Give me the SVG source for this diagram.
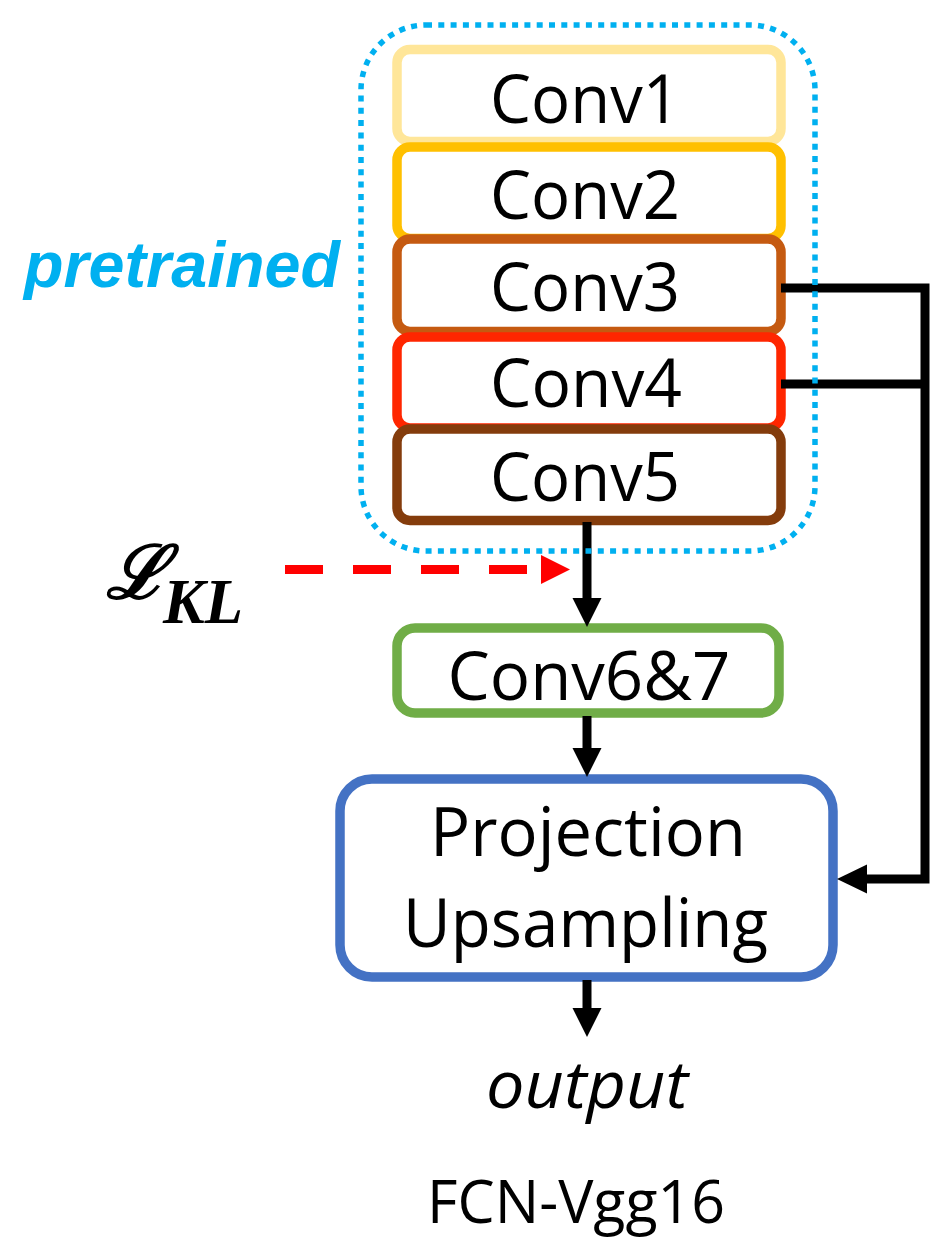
<svg xmlns="http://www.w3.org/2000/svg" width="935" height="1239" viewBox="0 0 935 1239">
  <style>
    .box { fill: #ffffff; stroke-width: 9.5; }
    .lbl { font-family: "Open Sans", "Liberation Sans", sans-serif; font-size: 68px; fill: #000000; text-anchor: middle; }
    .wire { fill: none; stroke: #000000; stroke-width: 9; stroke-linejoin: miter; stroke-linecap: butt; }
    .head { fill: #000000; }
  </style>
  <rect width="935" height="1239" fill="#ffffff"/>

  <!-- pretrained backbone layers -->
  <g id="conv1">
    <rect class="box" x="397" y="49.5" width="384" height="92" rx="13" stroke="#FFE699"/>
    <text class="lbl" x="585" y="123" textLength="190" lengthAdjust="spacingAndGlyphs">Conv1</text>
  </g>
  <g id="conv2">
    <rect class="box" x="397" y="147" width="384" height="91.5" rx="13" stroke="#FFC000"/>
    <text class="lbl" x="585" y="219" textLength="190" lengthAdjust="spacingAndGlyphs">Conv2</text>
  </g>
  <g id="conv3">
    <rect class="box" x="397" y="239" width="384" height="92.5" rx="13" stroke="#C55A11"/>
    <text class="lbl" x="585" y="311" textLength="190" lengthAdjust="spacingAndGlyphs">Conv3</text>
  </g>
  <g id="conv4">
    <rect class="box" x="397" y="337" width="384" height="91" rx="13" stroke="#FF2600"/>
    <text class="lbl" x="586" y="407" textLength="192" lengthAdjust="spacingAndGlyphs">Conv4</text>
  </g>
  <g id="conv5">
    <rect class="box" x="397" y="429" width="384" height="91.5" rx="13" stroke="#843C0C"/>
    <text class="lbl" x="585" y="501" textLength="190" lengthAdjust="spacingAndGlyphs">Conv5</text>
  </g>

  <g id="conv67">
    <rect class="box" x="397" y="628" width="382" height="85" rx="18" stroke="#70AD47"/>
    <text class="lbl" x="589" y="700" textLength="283" lengthAdjust="spacingAndGlyphs">Conv6&amp;7</text>
  </g>

  <g id="projection">
    <rect class="box" x="340" y="779" width="493" height="198" rx="32" stroke="#4472C4"/>
    <text class="lbl" x="588" y="856" textLength="316" lengthAdjust="spacingAndGlyphs">Projection</text>
    <text class="lbl" x="585.5" y="947" textLength="365" lengthAdjust="spacingAndGlyphs">Upsampling</text>
  </g>

  <!-- connectors -->
  <g id="connectors">
    <polyline class="wire" points="781,288 925,288 925,879 866,879"/>
    <line class="wire" x1="781" y1="384" x2="925" y2="384"/>
    <polygon class="head" points="837,879 867,864.5 867,893.5"/>

    <line class="wire" x1="587" y1="522" x2="587" y2="600"/>
    <polygon class="head" points="572.5,598 601.5,598 587,627"/>

    <line class="wire" x1="587" y1="716" x2="587" y2="750"/>
    <polygon class="head" points="572.5,748 601.5,748 587,777"/>

    <line class="wire" x1="587" y1="980" x2="587" y2="1009"/>
    <polygon class="head" points="572.5,1008 601.5,1008 587,1037"/>

    <line x1="285" y1="569.5" x2="541" y2="569.5" stroke="#FF0000" stroke-width="9" stroke-dasharray="38 30"/>
    <polygon points="541,555 570,569.5 541,584" fill="#FF0000"/>
  </g>

  <!-- dotted frame around the pretrained layers -->
  <g id="pretrained-frame">
    <rect x="361" y="25" width="454" height="526" rx="65" fill="none" stroke="#00B0F0" stroke-width="5.5" stroke-dasharray="6 6.3"/>
    <text x="24" y="287" textLength="316" lengthAdjust="spacingAndGlyphs" font-family="'Liberation Sans', Arial, sans-serif" font-size="64" font-weight="bold" font-style="italic" fill="#00B0F0">pretrained</text>
  </g>

  <!-- KL loss label -->
  <g id="loss">
    <text x="106" y="598" font-family="'DejaVu Serif', serif" font-size="74" font-weight="bold" font-style="italic" fill="#000000">ℒ</text>
    <text x="163" y="623" textLength="80" lengthAdjust="spacingAndGlyphs" font-family="'Liberation Serif', serif" font-size="64" font-weight="bold" font-style="italic" fill="#000000">KL</text>
  </g>

  <g id="output">
    <text x="587" y="1108" textLength="202" lengthAdjust="spacingAndGlyphs" font-family="'Open Sans', 'Liberation Sans', sans-serif" font-size="66" font-style="italic" text-anchor="middle" fill="#000000">output</text>
  </g>

  <g id="caption">
    <text x="576" y="1223" textLength="298" lengthAdjust="spacingAndGlyphs" font-family="'Open Sans', 'Liberation Sans', sans-serif" font-size="60" text-anchor="middle" fill="#000000">FCN-Vgg16</text>
  </g>
</svg>
